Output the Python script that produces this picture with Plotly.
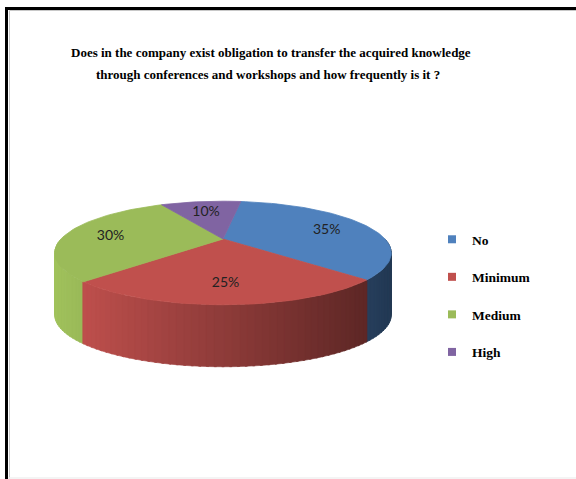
import math
import plotly.graph_objects as go

# Survey answers and their shares (percent)
categories = ["No", "Minimum", "Medium", "High"]
shares = [35, 25, 30, 10]
colors = ["#4F81BD", "#C0504D", "#9BBB59", "#8064A2"]

title_lines = [
    "Does in the company exist obligation to transfer the acquired knowledge",
    "through conferences and workshops and how frequently is it ?",
]

# ---- 3-D pie geometry (pixel space of the 576x479 canvas) ----
W, H = 576, 479
CX, CY = 223.0, 239.0      # centre of the top face
A, B = 162.0, 48.0         # horizontal / vertical half-extent of the top face
K = 0.27                   # perspective strength
DEPTH = 62.0               # thickness of the disc
ROT = 8.0                  # screen rotation of the first slice edge (deg, clockwise)
STEP = 2.0                 # angular step for the outlines
LABEL_R, LABEL_DROP = 0.72, 2.0


def proj(ang, r=1.0, drop=0.0):
    t = math.radians(ang)
    den = 1.0 + K * r * math.cos(t)
    return CX + A * r * math.sin(t) / den, CY - B * r * math.cos(t) / den + drop


def shade(hex_color, f):
    r, g, b = (int(hex_color[i:i + 2], 16) for i in (1, 3, 5))
    return "rgb({},{},{})".format(*(max(0, min(255, round(c * f))) for c in (r, g, b)))


def arc(a0, a1):
    n = max(2, int(math.ceil((a1 - a0) / STEP)) + 1)
    return [a0 + (a1 - a0) * i / (n - 1) for i in range(n)]


total = float(sum(shares))
bounds = []
acc = 0.0
for v in shares:
    start = ROT + 360.0 * acc / total
    acc += v
    bounds.append((start, ROT + 360.0 * acc / total))

fig = go.Figure()

# Outer wall: small quads, far ones first, shaded from left to right
x_left, x_right = CX - A * 1.04, CX + A * 1.04
quads = []
for (a0, a1), col in zip(bounds, colors):
    lo, hi = max(a0, 90.0), min(a1, 270.0)
    if hi <= lo:
        continue
    angs = arc(lo, hi)
    for t0, t1 in zip(angs[:-1], angs[1:]):
        e0, e1 = t0 - 0.3, t1 + 0.3
        p0, p1 = proj(e0), proj(e1)
        q1, q0 = proj(e1, drop=DEPTH), proj(e0, drop=DEPTH)
        xm = (p0[0] + p1[0]) / 2
        f = 1.04 - 0.6 * (xm - x_left) / (x_right - x_left)
        depth_key = -math.cos(math.radians((t0 + t1) / 2))
        quads.append((depth_key, [p0[0], p1[0], q1[0], q0[0]],
                      [p0[1], p1[1], q1[1], q0[1]], shade(col, f)))

for _, xs, ys, c in sorted(quads, key=lambda q: q[0]):
    fig.add_trace(go.Scatter(x=xs + [xs[0]], y=ys + [ys[0]], mode="lines",
                             fill="toself", fillcolor=c,
                             line=dict(color=c, width=0.6),
                             hoverinfo="skip", showlegend=False))

# Top faces
for (a0, a1), col in zip(bounds, colors):
    pts = [proj(a) for a in arc(a0, a1)]
    xs = [CX] + [p[0] for p in pts] + [CX]
    ys = [CY] + [p[1] for p in pts] + [CY]
    fig.add_trace(go.Scatter(x=xs, y=ys, mode="lines", fill="toself",
                             fillcolor=col, line=dict(color=col, width=0.8),
                             hoverinfo="skip", showlegend=False))

# Percentage labels on the top faces
lx, ly = [], []
for a0, a1 in bounds:
    px, py = proj((a0 + a1) / 2, r=LABEL_R, drop=LABEL_DROP)
    lx.append(px)
    ly.append(py)
fig.add_trace(go.Scatter(x=lx, y=ly, mode="text",
                         text=[f"{v}%" for v in shares],
                         textfont=dict(family="Lato", size=14, color="#222222"),
                         hoverinfo="skip", showlegend=False))

# Legend entries
for name, col in zip(categories, colors):
    fig.add_trace(go.Scatter(x=[None], y=[None], mode="markers", name=name,
                             legendgroup=name,
                             marker=dict(symbol="square", size=8, color=col)))

annotations = [
    dict(text=title_lines[0], x=270.5 / W, y=1 - 52 / H),
    dict(text=title_lines[1], x=268 / W, y=1 - 75 / H),
]
for a in annotations:
    a.update(xref="paper", yref="paper", xanchor="center", yanchor="middle",
             showarrow=False,
             font=dict(family="Liberation Serif", size=13, color="black",
                       weight="bold"))

frame = dict(type="line", xref="paper", yref="paper",
             line=dict(color="black", width=3))
shapes = [
    dict(frame, x0=6.5 / W, x1=6.5 / W, y0=0, y1=1 - 7 / H),
    dict(frame, x0=5 / W, x1=1, y0=1 - 8.5 / H, y1=1 - 8.5 / H),
    dict(type="line", xref="paper", yref="paper", x0=9.5 / W, x1=9.5 / W,
         y0=0, y1=1 - 10.5 / H, line=dict(color="#c8c8c8", width=1)),
    dict(type="line", xref="paper", yref="paper", x0=9.5 / W, x1=1,
         y0=1 - 10.5 / H, y1=1 - 10.5 / H, line=dict(color="#c8c8c8", width=1)),
    dict(type="line", xref="paper", yref="paper", x0=8 / W, x1=1,
         y0=1 - 478 / H, y1=1 - 478 / H, line=dict(color="#f0f0f0", width=1.5)),
]

fig.update_layout(
    width=W, height=H,
    margin=dict(l=0, r=0, t=0, b=0),
    paper_bgcolor="white", plot_bgcolor="white",
    xaxis=dict(range=[0, W], visible=False, fixedrange=True),
    yaxis=dict(range=[H, 0], visible=False, fixedrange=True),
    showlegend=True,
    legend=dict(x=432 / W, y=1 - 224 / H, xanchor="left", yanchor="top",
                bgcolor="rgba(0,0,0,0)", tracegroupgap=17,
                font=dict(family="Liberation Serif", size=13.5, color="black",
                          weight="bold")),
    annotations=annotations,
    shapes=shapes,
    hovermode=False,
)

fig.write_html("out.html", config={"displayModeBar": False})
